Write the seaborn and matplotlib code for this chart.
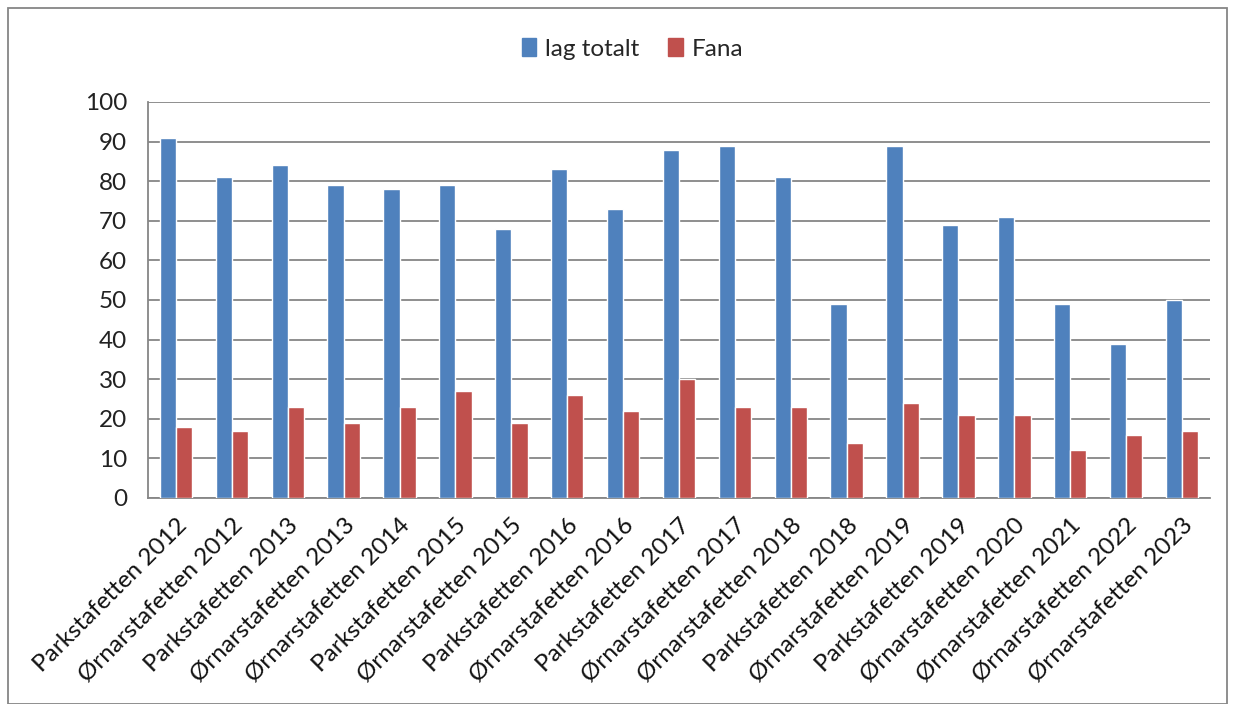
import pandas as pd
import numpy as np
import matplotlib
matplotlib.use('Agg')
import matplotlib.pyplot as plt
import seaborn as sns
from matplotlib.patches import Rectangle

# Data
races = ['Parkstafetten 2012', 'Ørnarstafetten 2012', 'Parkstafetten 2013',
         'Ørnarstafetten 2013', 'Ørnarstafetten 2014', 'Parkstafetten 2015',
         'Ørnarstafetten 2015', 'Parkstafetten 2016', 'Ørnarstafetten 2016',
         'Parkstafetten 2017', 'Ørnarstafetten 2017', 'Ørnarstafetten 2018',
         'Parkstafetten 2018', 'Ørnarstafetten 2019', 'Parkstafetten 2019',
         'Ørnarstafetten 2020', 'Ørnarstafetten 2021', 'Ørnarstafetten 2022',
         'Ørnarstafetten 2023']
lag_totalt = [91, 81, 84, 79, 78, 79, 68, 83, 73, 88, 89, 81, 49, 89, 69, 71, 49, 39, 50]
fana = [18, 17, 23, 19, 23, 27, 19, 26, 22, 30, 23, 23, 14, 24, 21, 21, 12, 16, 17]
series_names = ['lag totalt', 'Fana']
colors = ['#4F81BD', '#C0504D']
yticks = list(range(0, 101, 10))

df = pd.DataFrame({'race': races, 'lag totalt': lag_totalt, 'Fana': fana})
long_df = df.melt(id_vars='race', var_name='serie', value_name='antall')

sns.set_style('white')
plt.rcParams['font.family'] = ['Lato', 'DejaVu Sans']

fig = plt.figure(figsize=(12.35, 7.04), dpi=100)
ax = fig.add_axes([148 / 1235, 1 - 498 / 704, (1210 - 148) / 1235, (498 - 102) / 704])

sns.barplot(data=long_df, x='race', y='antall', hue='serie', hue_order=series_names,
            palette=colors, width=0.58, gap=0, saturation=1, ax=ax, legend=False,
            zorder=3)

ax.set_ylim(0, 100)
ax.set_xlim(-0.5, len(races) - 0.5)
ax.set_yticks(yticks)
ax.set_yticklabels([str(v) for v in yticks], fontsize=17.5, color='#222222')
ax.yaxis.grid(True, color='#868686', linewidth=1.3, zorder=0)
ax.set_axisbelow(True)

ax.set_xticks(range(len(races)))
ax.set_xticklabels(races, rotation=45, ha='right', rotation_mode='anchor', fontsize=17.5,
                   color='#111111')
ax.tick_params(axis='x', length=0, pad=12)
ax.set_xticks(np.arange(-0.5, len(races), 1), minor=True)
ax.tick_params(axis='x', which='minor', length=7, width=1.3, color='#868686')
ax.tick_params(axis='y', length=7, width=1.3, color='#868686', pad=8)

for side in ['top', 'right']:
    ax.spines[side].set_visible(False)
for side in ['left', 'bottom']:
    ax.spines[side].set_color('#868686')
    ax.spines[side].set_linewidth(1.3)

ax.set_xlabel('')
ax.set_ylabel('')

handles = [Rectangle((0, 0), 1, 1, color=c) for c in colors]
fig.legend(handles, series_names, loc='center', bbox_to_anchor=(0.512, 1 - 49 / 704),
           ncol=2, frameon=False, fontsize=17.5, handlelength=0.6, handleheight=0.7,
           handletextpad=0.35, columnspacing=1.2)

# outer chart frame
fig.patches.append(Rectangle((8 / 1235, 0), 1 - 16 / 1235, 1 - 8 / 704,
                             transform=fig.transFigure, fill=False,
                             edgecolor='#868686', linewidth=1.3))

fig.savefig('out.png', dpi=100)
